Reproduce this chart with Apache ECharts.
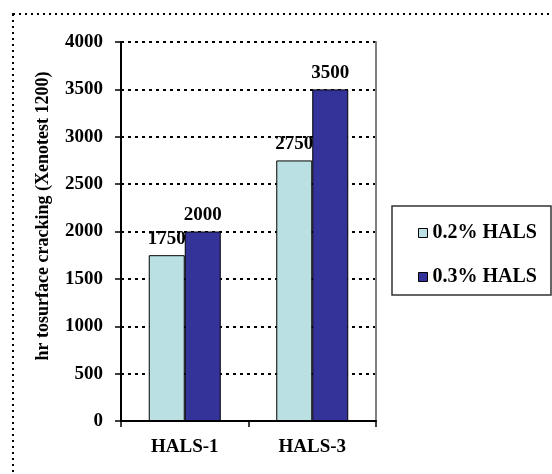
<!DOCTYPE html>
<html>
<head>
<meta charset="utf-8">
<script src="https://cdn.jsdelivr.net/npm/echarts@6/dist/echarts.min.js"></script>
<style>
html,body{margin:0;padding:0;background:#fff;}
#chart{width:552px;height:474px;}
</style>
</head>
<body>
<div id="chart"></div>
<script>
var categories = ['HALS-1', 'HALS-3'];
var seriesNames = ['0.2% HALS', '0.3% HALS'];
var values02 = [1750, 2750];
var values03 = [2000, 3500];
var yTicks = { min: 0, max: 4000, interval: 500 };
var yTitle = 'hr tosurface cracking (Xenotest 1200)';

var FONT = 'Liberation Serif';
var chart = echarts.init(document.getElementById('chart'));

var labelStyle = {
  show: true, position: 'top', distance: 7,
  color: '#000', fontFamily: FONT, fontWeight: 'bold', fontSize: 19
};

chart.setOption({
  animation: false,
  backgroundColor: '#fff',
  grid: { left: 121, right: 176, top: 42, bottom: 53, containLabel: false },
  legend: {
    orient: 'vertical', left: 413, top: 218, itemGap: 24,
    itemWidth: 9, itemHeight: 9, icon: 'rect',
    itemStyle: { borderColor: '#000', borderWidth: 1 },
    textStyle: { fontFamily: FONT, fontWeight: 'bold', fontSize: 20, color: '#000', padding: [0, 0, 0, 0] },
    data: seriesNames
  },
  xAxis: {
    type: 'category', data: categories,
    axisLine: { lineStyle: { color: '#000', width: 2 } },
    axisTick: { show: true, length: 6, inside: false, lineStyle: { color: '#000', width: 1.5 } },
    axisLabel: { margin: 17, fontFamily: FONT, fontWeight: 'bold', fontSize: 19, color: '#000' }
  },
  yAxis: [{
    type: 'value', min: yTicks.min, max: yTicks.max, interval: yTicks.interval,
    axisLine: { show: true, lineStyle: { color: '#000', width: 2 } },
    axisTick: { show: true, length: 6, lineStyle: { color: '#000', width: 1.5 } },
    axisLabel: { margin: 18, fontFamily: FONT, fontWeight: 'bold', fontSize: 19, color: '#000',
      formatter: function (v) { return String(v); } },
    splitLine: { show: true, lineStyle: { color: '#000', width: 2, type: [3, 4] } }
  }, {
    type: 'value', position: 'right', min: yTicks.min, max: yTicks.max, interval: yTicks.interval,
    axisLine: { show: true, lineStyle: { color: '#808080', width: 2 } },
    axisTick: { show: false }, axisLabel: { show: false }, splitLine: { show: false }
  }],
  series: [{
    name: seriesNames[0], type: 'bar', data: values02, barWidth: 36, barGap: '0%',
    itemStyle: { color: '#BBE0E3', borderColor: '#000', borderWidth: 1 },
    label: labelStyle
  }, {
    name: seriesNames[1], type: 'bar', data: values03, barWidth: 36, barGap: '0%',
    itemStyle: { color: '#333399', borderColor: '#000', borderWidth: 1 },
    label: labelStyle
  }],
  graphic: [{
    type: 'rect', silent: true, z: -1,
    shape: { x: 13, y: 14, width: 700, height: 600 },
    style: { fill: 'none', stroke: '#000', lineWidth: 2, lineDash: [2, 4] }
  }, {
    type: 'rect', silent: true,
    shape: { x: 392, y: 206, width: 159, height: 89 },
    style: { fill: 'none', stroke: '#333', lineWidth: 1.5 }
  }, {
    type: 'text', silent: true, x: 43, y: 216, rotation: Math.PI / 2,
    style: {
      text: yTitle, fill: '#000', textAlign: 'center', textVerticalAlign: 'middle',
      font: 'bold 18px "Liberation Serif"'
    }
  }]
});
</script>
</body>
</html>
